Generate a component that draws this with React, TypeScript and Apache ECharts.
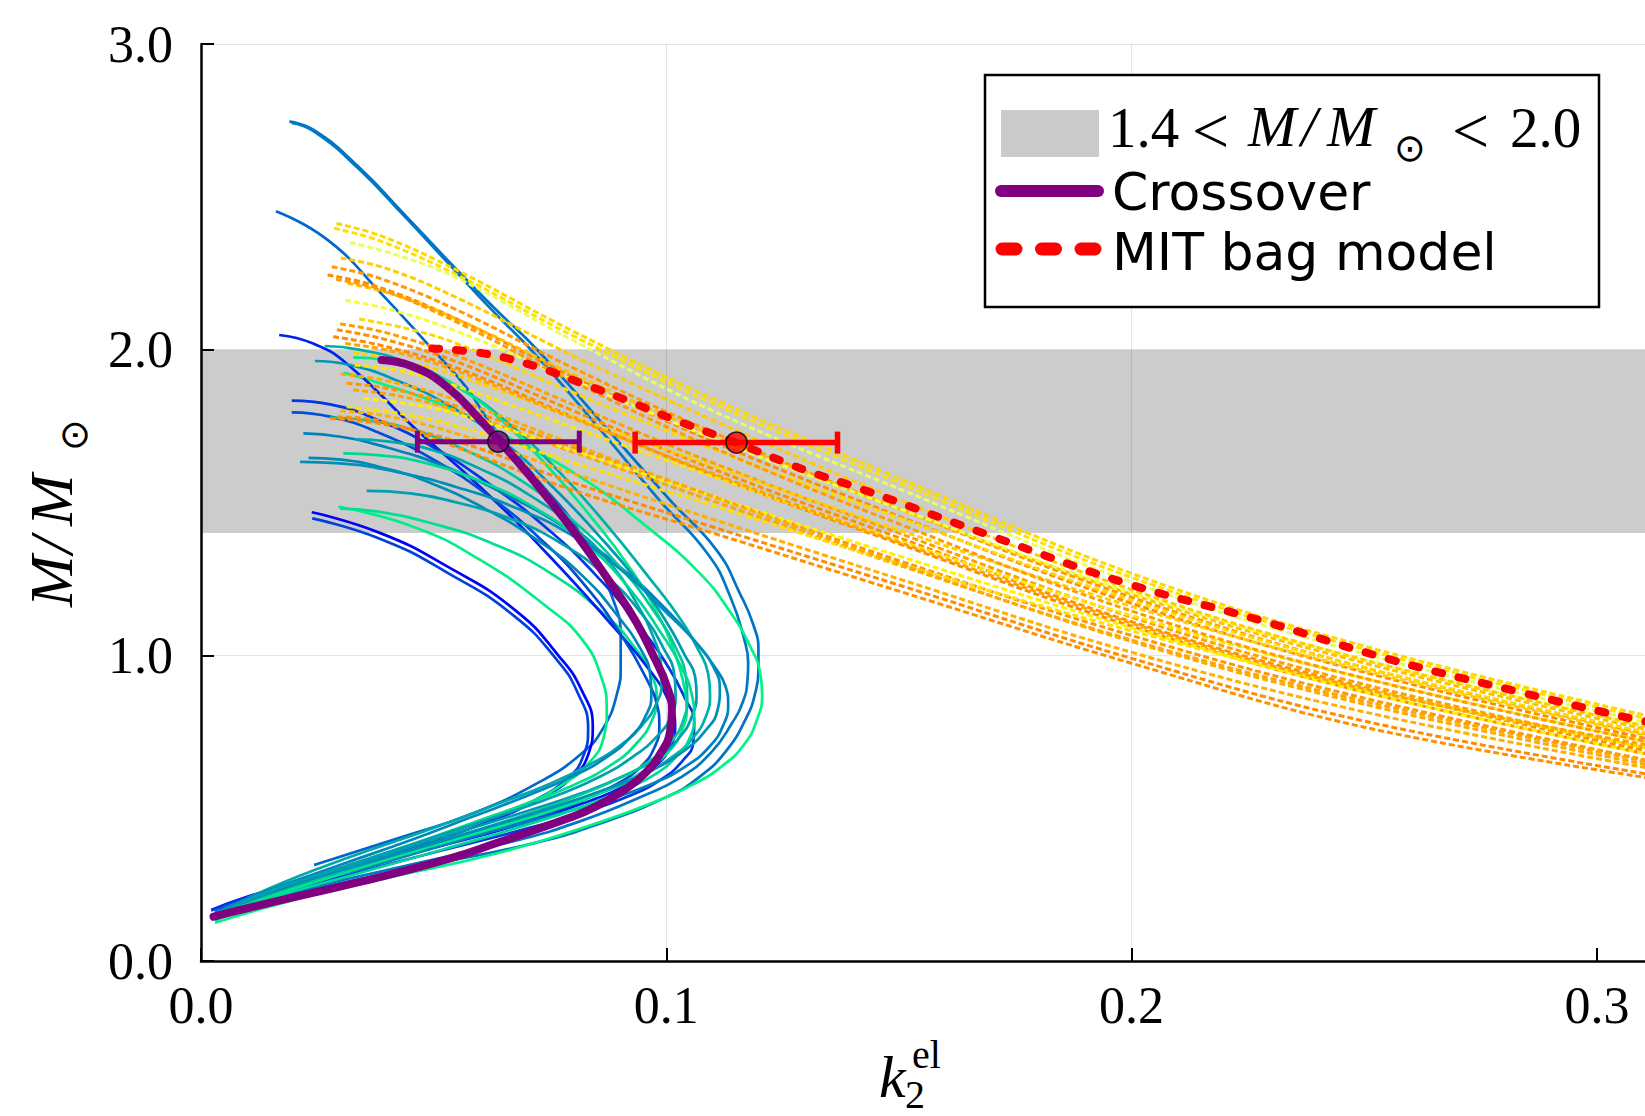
import React, { useEffect, useRef } from "react";
import * as echarts from "echarts";

// ---------- data ----------
const xTicks = [0, 0.1, 0.2, 0.3];
const yTicks = [0, 1, 2, 3];
const xMax = 0.31034;
const bandRange = [1.4, 2.0];

const crossoverCurve = [
  [0.0388, 1.966], [0.0456, 1.944], [0.0528, 1.879], [0.06, 1.77], [0.0671, 1.65],
  [0.0743, 1.519], [0.0815, 1.377], [0.0886, 1.224], [0.0935, 1.11], [0.0975, 0.99],
  [0.1001, 0.9], [0.1012, 0.82], [0.1008, 0.75], [0.0988, 0.68], [0.0955, 0.615],
  [0.091, 0.56], [0.0848, 0.505], [0.0786, 0.465], [0.0643, 0.39], [0.053, 0.333],
  [0.0339, 0.258], [0.0147, 0.19], [0.0027, 0.145],
];

const mitBagCurve = [
  [0.0497, 2.004], [0.0607, 1.988], [0.0722, 1.944], [0.0818, 1.89], [0.0914, 1.835],
  [0.101, 1.775], [0.1149, 1.696], [0.1298, 1.606], [0.1416, 1.546], [0.1703, 1.388],
  [0.199, 1.235], [0.2276, 1.115], [0.2559, 0.985], [0.2831, 0.881], [0.3089, 0.788],
  [0.3115, 0.782],
];

// [x, y, xLow, xHigh]
const crossoverPoint = [0.0639, 1.699, 0.0465, 0.0813];
const mitPoint = [0.1151, 1.696, 0.0933, 0.1368];

const solidColors = [
  "#0073c6", "#0078c3", "#0068cc", "#0000ff", "#0040df", "#00f087", "#00e08f",
  "#00f585", "#0020ef", "#0038e3", "#0050d7", "#0080bf", "#00b0a7", "#00e88b",
  "#0098b3", "#00c89b", "#00a8ab", "#00d897", "#0088bb", "#0090b7", "#00a0af",
];

const solidCurves = [
  [[0.019, 2.746], [0.0243, 2.718], [0.0339, 2.598], [0.0435, 2.446], [0.053, 2.293], [0.0627, 2.141], [0.0723, 1.999], [0.0847, 1.786], [0.1008, 1.508], [0.1108, 1.344], [0.1158, 1.203], [0.1187, 1.1], [0.1198, 1.017], [0.1198, 0.95], [0.119, 0.87], [0.1173, 0.799], [0.113, 0.69], [0.1072, 0.603], [0.1001, 0.537], [0.0858, 0.45], [0.0714, 0.385], [0.05, 0.318], [0.03, 0.255], [0.015, 0.205], [0.004, 0.158]],
  [[0.0195, 2.742], [0.0245, 2.712], [0.034, 2.59], [0.0435, 2.44], [0.053, 2.285], [0.0625, 2.13], [0.0715, 1.99], [0.0835, 1.78], [0.0985, 1.508], [0.109, 1.33], [0.1138, 1.19], [0.1168, 1.05], [0.1176, 0.974], [0.1174, 0.91], [0.1165, 0.85], [0.1142, 0.78], [0.1095, 0.68], [0.103, 0.6], [0.095, 0.54], [0.082, 0.46], [0.068, 0.395], [0.048, 0.325], [0.029, 0.26], [0.014, 0.208], [0.004, 0.162]],
  [[0.0161, 2.453], [0.0272, 2.359], [0.0387, 2.184], [0.0492, 2.01], [0.0569, 1.879], [0.0627, 1.748], [0.072, 1.58], [0.0815, 1.399], [0.0886, 1.181], [0.0902, 1.05], [0.0902, 0.963], [0.0895, 0.88], [0.0866, 0.766], [0.0818, 0.679], [0.0722, 0.581], [0.0579, 0.48], [0.0435, 0.407], [0.0243, 0.314]],
  [[0.0238, 1.468], [0.0387, 1.399], [0.053, 1.29], [0.0675, 1.148], [0.077, 0.996], [0.0818, 0.886], [0.0842, 0.767], [0.0833, 0.679], [0.0799, 0.603], [0.0722, 0.527], [0.0627, 0.461], [0.0482, 0.385], [0.029, 0.298], [0.0099, 0.21], [0.0022, 0.167]],
  [[0.0239, 1.448], [0.0387, 1.38], [0.053, 1.27], [0.0672, 1.13], [0.0765, 0.985], [0.081, 0.876], [0.0832, 0.76], [0.0822, 0.672], [0.0788, 0.598], [0.0712, 0.522], [0.062, 0.457], [0.0478, 0.382], [0.0288, 0.296], [0.0098, 0.208], [0.0022, 0.165]],
  [[0.0295, 1.486], [0.0456, 1.421], [0.06, 1.312], [0.0743, 1.159], [0.082, 1.05], [0.086, 0.93], [0.0872, 0.82], [0.0865, 0.73], [0.0835, 0.65], [0.078, 0.58], [0.07, 0.515], [0.058, 0.445], [0.043, 0.365], [0.027, 0.285], [0.012, 0.2], [0.003, 0.14]],
  [[0.0299, 1.48], [0.038, 1.47], [0.05, 1.43], [0.062, 1.37], [0.075, 1.27], [0.087, 1.13], [0.0935, 1.02], [0.097, 0.93], [0.0979, 0.86], [0.097, 0.79], [0.0935, 0.71], [0.088, 0.64], [0.08, 0.575], [0.07, 0.515], [0.058, 0.45], [0.045, 0.38], [0.027, 0.29], [0.012, 0.205], [0.003, 0.135]],
  [[0.0306, 1.925], [0.0385, 1.89], [0.0528, 1.813], [0.0671, 1.704], [0.0815, 1.584], [0.0958, 1.421], [0.1072, 1.268], [0.1138, 1.14], [0.118, 1.03], [0.1202, 0.94], [0.1206, 0.87], [0.1195, 0.79], [0.1168, 0.71], [0.1122, 0.64], [0.1058, 0.578], [0.0985, 0.527], [0.0858, 0.455], [0.0643, 0.355], [0.04, 0.272], [0.02, 0.2], [0.003, 0.125]],
  [[0.0168, 2.048], [0.0241, 2.02], [0.0313, 1.955], [0.0456, 1.748], [0.06, 1.551], [0.0743, 1.334], [0.0886, 1.094], [0.0965, 0.95], [0.1005, 0.85], [0.1019, 0.77], [0.1008, 0.7], [0.0975, 0.635], [0.092, 0.58], [0.082, 0.515], [0.067, 0.44], [0.05, 0.37], [0.03, 0.29], [0.013, 0.215], [0.003, 0.16]],
  [[0.0195, 1.833], [0.028, 1.82], [0.038, 1.77], [0.05, 1.68], [0.062, 1.56], [0.074, 1.42], [0.085, 1.26], [0.095, 1.08], [0.1005, 0.96], [0.104, 0.86], [0.106, 0.78], [0.1058, 0.715], [0.1035, 0.655], [0.099, 0.595], [0.092, 0.54], [0.082, 0.485], [0.068, 0.425], [0.05, 0.355], [0.03, 0.275], [0.013, 0.205], [0.004, 0.165]],
  [[0.0195, 1.795], [0.028, 1.78], [0.038, 1.73], [0.05, 1.64], [0.062, 1.52], [0.073, 1.38], [0.083, 1.22], [0.091, 1.05], [0.0955, 0.93], [0.098, 0.84], [0.0985, 0.77], [0.0975, 0.7], [0.0945, 0.635], [0.0895, 0.58], [0.082, 0.525], [0.072, 0.47], [0.055, 0.395], [0.036, 0.31], [0.017, 0.228], [0.004, 0.168]],
  [[0.022, 1.726], [0.03, 1.715], [0.04, 1.68], [0.052, 1.62], [0.065, 1.53], [0.078, 1.42], [0.09, 1.29], [0.1, 1.15], [0.1065, 1.04], [0.1105, 0.96], [0.1128, 0.895], [0.1133, 0.84], [0.1122, 0.77], [0.1095, 0.705], [0.1045, 0.64], [0.097, 0.58], [0.087, 0.525], [0.074, 0.47], [0.058, 0.405], [0.04, 0.325], [0.02, 0.24], [0.004, 0.163]],
  [[0.0266, 2.012], [0.034, 2.0], [0.044, 1.96], [0.055, 1.88], [0.066, 1.76], [0.077, 1.6], [0.087, 1.43], [0.096, 1.26], [0.1025, 1.13], [0.1068, 1.02], [0.109, 0.94], [0.1094, 0.87], [0.1085, 0.8], [0.106, 0.735], [0.1015, 0.67], [0.0945, 0.605], [0.085, 0.545], [0.073, 0.485], [0.058, 0.415], [0.04, 0.335], [0.021, 0.25], [0.004, 0.155]],
  [[0.0327, 1.975], [0.04, 1.965], [0.048, 1.93], [0.057, 1.86], [0.066, 1.75], [0.075, 1.61], [0.084, 1.45], [0.092, 1.29], [0.098, 1.14], [0.102, 1.0], [0.1038, 0.9], [0.1044, 0.83], [0.1035, 0.76], [0.1008, 0.69], [0.0955, 0.625], [0.088, 0.565], [0.077, 0.5], [0.062, 0.43], [0.045, 0.355], [0.028, 0.275], [0.013, 0.2], [0.003, 0.135]],
  [[0.0245, 1.963], [0.032, 1.95], [0.042, 1.9], [0.053, 1.82], [0.064, 1.71], [0.075, 1.56], [0.085, 1.4], [0.094, 1.24], [0.1, 1.11], [0.104, 1.0], [0.1062, 0.93], [0.1065, 0.87], [0.1055, 0.8], [0.103, 0.735], [0.0985, 0.67], [0.0915, 0.61], [0.082, 0.55], [0.07, 0.49], [0.055, 0.42], [0.038, 0.34], [0.02, 0.255], [0.004, 0.16]],
  [[0.0277, 1.778], [0.035, 1.77], [0.045, 1.74], [0.057, 1.67], [0.069, 1.57], [0.08, 1.44], [0.09, 1.29], [0.098, 1.13], [0.1022, 1.02], [0.1042, 0.93], [0.1045, 0.86], [0.1037, 0.79], [0.1012, 0.72], [0.0965, 0.655], [0.0895, 0.595], [0.08, 0.535], [0.068, 0.47], [0.052, 0.395], [0.033, 0.305], [0.015, 0.22], [0.003, 0.14]],
  [[0.0331, 1.707], [0.04, 1.7], [0.05, 1.67], [0.06, 1.61], [0.07, 1.53], [0.08, 1.42], [0.088, 1.3], [0.094, 1.16], [0.0972, 1.06], [0.0988, 0.98], [0.099, 0.91], [0.0978, 0.84], [0.095, 0.775], [0.0905, 0.71], [0.0838, 0.645], [0.075, 0.58], [0.064, 0.515], [0.05, 0.435], [0.032, 0.34], [0.015, 0.24], [0.003, 0.15]],
  [[0.0306, 1.661], [0.038, 1.655], [0.048, 1.63], [0.06, 1.57], [0.072, 1.48], [0.083, 1.36], [0.092, 1.22], [0.099, 1.07], [0.1033, 0.96], [0.1055, 0.87], [0.106, 0.8], [0.1052, 0.735], [0.1025, 0.675], [0.098, 0.615], [0.091, 0.56], [0.082, 0.505], [0.07, 0.445], [0.052, 0.365], [0.033, 0.283], [0.015, 0.205], [0.003, 0.132]],
  [[0.0231, 1.646], [0.03, 1.64], [0.04, 1.61], [0.05, 1.56], [0.061, 1.48], [0.072, 1.38], [0.082, 1.26], [0.09, 1.12], [0.0945, 1.02], [0.0965, 0.94], [0.0968, 0.87], [0.0955, 0.8], [0.0925, 0.735], [0.0875, 0.67], [0.08, 0.605], [0.07, 0.54], [0.058, 0.47], [0.045, 0.395], [0.03, 0.315], [0.014, 0.228], [0.003, 0.158]],
  [[0.0213, 1.633], [0.03, 1.628], [0.042, 1.6], [0.055, 1.55], [0.068, 1.48], [0.08, 1.39], [0.091, 1.27], [0.1, 1.14], [0.1065, 1.04], [0.1102, 0.96], [0.1115, 0.89], [0.111, 0.82], [0.1085, 0.755], [0.104, 0.69], [0.097, 0.625], [0.0875, 0.565], [0.076, 0.505], [0.06, 0.43], [0.04, 0.34], [0.019, 0.245], [0.004, 0.16]],
  [[0.0356, 1.538], [0.045, 1.53], [0.055, 1.5], [0.066, 1.45], [0.077, 1.37], [0.087, 1.26], [0.095, 1.13], [0.0995, 1.02], [0.1017, 0.94], [0.102, 0.87], [0.101, 0.8], [0.098, 0.735], [0.093, 0.67], [0.086, 0.605], [0.077, 0.545], [0.065, 0.48], [0.049, 0.4], [0.031, 0.31], [0.014, 0.225], [0.003, 0.15]],
];

const dashedColors = [
  "#ffd700", "#ffe000", "#e6ff5a", "#ff9a00", "#ff8c00", "#ffc000", "#f0ff40", "#ffa000",
  "#ff9000", "#ff8c00", "#ffd000", "#ff9800", "#ffa500", "#ffe000", "#ffb000", "#ff9000",
  "#ff8c00", "#ffe600", "#ffd800", "#ffcc00", "#fff000", "#ffaa00", "#ffa500", "#ff9c00",
];

const dashedCurves = [
  [[0.0291, 2.413], [0.0391, 2.37], [0.055, 2.26], [0.08, 2.06], [0.11, 1.84], [0.15, 1.58], [0.2, 1.268], [0.25, 1.03], [0.3115, 0.8]],
  [[0.0286, 2.397], [0.0386, 2.355], [0.055, 2.245], [0.08, 2.045], [0.11, 1.825], [0.15, 1.565], [0.2, 1.255], [0.25, 1.02], [0.3115, 0.79]],
  [[0.032, 2.351], [0.042, 2.31], [0.055, 2.235], [0.08, 2.03], [0.11, 1.8], [0.15, 1.545], [0.2, 1.24], [0.25, 1.005], [0.3115, 0.777]],
  [[0.0281, 2.271], [0.0381, 2.235], [0.055, 2.13], [0.08, 1.94], [0.11, 1.73], [0.15, 1.48], [0.2, 1.19], [0.25, 0.96], [0.3115, 0.74]],
  [[0.0272, 2.244], [0.0372, 2.21], [0.055, 2.1], [0.08, 1.91], [0.11, 1.7], [0.15, 1.455], [0.2, 1.17], [0.25, 0.945], [0.3115, 0.725]],
  [[0.0315, 2.217], [0.0415, 2.18], [0.055, 2.1], [0.08, 1.92], [0.11, 1.72], [0.15, 1.48], [0.2, 1.2], [0.25, 0.975], [0.3115, 0.755]],
  [[0.031, 2.162], [0.041, 2.13], [0.055, 2.06], [0.08, 1.9], [0.11, 1.71], [0.15, 1.48], [0.2, 1.205], [0.25, 0.985], [0.3115, 0.765]],
  [[0.0299, 2.084], [0.0399, 2.055], [0.055, 1.98], [0.08, 1.82], [0.11, 1.63], [0.15, 1.4], [0.2, 1.125], [0.25, 0.905], [0.3115, 0.695]],
  [[0.0292, 2.065], [0.0392, 2.035], [0.055, 1.96], [0.08, 1.8], [0.11, 1.61], [0.15, 1.385], [0.2, 1.11], [0.25, 0.895], [0.3115, 0.685]],
  [[0.0284, 2.042], [0.0384, 2.015], [0.055, 1.94], [0.08, 1.78], [0.11, 1.59], [0.15, 1.365], [0.2, 1.095], [0.25, 0.88], [0.3115, 0.675]],
  [[0.0327, 1.99], [0.0427, 1.965], [0.055, 1.915], [0.08, 1.78], [0.11, 1.62], [0.15, 1.41], [0.2, 1.16], [0.25, 0.95], [0.3115, 0.735]],
  [[0.0313, 1.89], [0.0413, 1.87], [0.055, 1.815], [0.08, 1.68], [0.11, 1.52], [0.15, 1.31], [0.2, 1.065], [0.25, 0.86], [0.3115, 0.655]],
  [[0.0327, 1.868], [0.0427, 1.848], [0.055, 1.8], [0.08, 1.665], [0.11, 1.505], [0.15, 1.295], [0.2, 1.05], [0.25, 0.85], [0.3115, 0.65]],
  [[0.0313, 1.813], [0.0413, 1.795], [0.055, 1.75], [0.08, 1.63], [0.11, 1.49], [0.15, 1.3], [0.2, 1.08], [0.25, 0.89], [0.3115, 0.695]],
  [[0.0299, 1.8], [0.0399, 1.783], [0.055, 1.725], [0.08, 1.595], [0.11, 1.445], [0.15, 1.25], [0.2, 1.01], [0.25, 0.815], [0.3115, 0.63]],
  [[0.0292, 1.78], [0.0392, 1.765], [0.055, 1.68], [0.08, 1.54], [0.11, 1.4], [0.15, 1.21], [0.2, 0.974], [0.25, 0.765], [0.3115, 0.598]],
  [[0.0277, 1.775], [0.0377, 1.76], [0.055, 1.7], [0.08, 1.565], [0.11, 1.42], [0.15, 1.23], [0.2, 0.99], [0.25, 0.785], [0.3115, 0.61]],
  [[0.033, 1.95], [0.043, 1.93], [0.055, 1.88], [0.08, 1.745], [0.11, 1.585], [0.15, 1.375], [0.2, 1.13], [0.25, 0.925], [0.3115, 0.715]],
  [[0.034, 2.1], [0.044, 2.07], [0.055, 2.02], [0.08, 1.86], [0.11, 1.675], [0.15, 1.45], [0.2, 1.18], [0.25, 0.96], [0.3115, 0.745]],
  [[0.03, 2.3], [0.04, 2.265], [0.055, 2.17], [0.08, 1.98], [0.11, 1.77], [0.15, 1.51], [0.2, 1.215], [0.25, 0.985], [0.3115, 0.765]],
  [[0.035, 1.84], [0.045, 1.822], [0.055, 1.79], [0.08, 1.67], [0.11, 1.52], [0.15, 1.325], [0.2, 1.09], [0.25, 0.88], [0.3115, 0.675]],
  [[0.03, 1.92], [0.04, 1.898], [0.055, 1.835], [0.08, 1.69], [0.11, 1.52], [0.15, 1.3], [0.2, 1.045], [0.25, 0.84], [0.3115, 0.64]],
  [[0.031, 2.02], [0.041, 1.995], [0.055, 1.93], [0.08, 1.775], [0.11, 1.595], [0.15, 1.37], [0.2, 1.105], [0.25, 0.89], [0.3115, 0.705]],
  [[0.029, 2.23], [0.039, 2.195], [0.055, 2.09], [0.08, 1.895], [0.11, 1.68], [0.15, 1.43], [0.2, 1.145], [0.25, 0.925], [0.3115, 0.715]],
];

// ---------- chart ----------
const SERIF = '"Liberation Serif", "DejaVu Serif", serif';
const SANS = '"DejaVu Sans", "Noto Sans", sans-serif';

function tickFmt(v: number) {
  const r = Math.round(v * 10);
  return Math.abs(v * 10 - r) < 1e-6 ? (r / 10).toFixed(1) : "";
}

function errorBarSeries(pt: number[], color: string, width: number) {
  return {
    type: "custom",
    z: 6,
    data: [pt],
    encode: { x: 0, y: 1 },
    renderItem: (params: any, api: any) => {
      const y = api.value(1);
      const lo = api.coord([api.value(2), y]);
      const hi = api.coord([api.value(3), y]);
      const h = 11;
      const st = { stroke: color, lineWidth: width };
      return {
        type: "group",
        children: [
          { type: "line", shape: { x1: lo[0], y1: lo[1], x2: hi[0], y2: hi[1] }, style: st },
          { type: "line", shape: { x1: lo[0], y1: lo[1] - h, x2: lo[0], y2: lo[1] + h }, style: st },
          { type: "line", shape: { x1: hi[0], y1: hi[1] - h, x2: hi[0], y2: hi[1] + h }, style: st },
        ],
      };
    },
  };
}

function buildOption() {
  const series: any[] = [];
  series.push({
    type: "custom",
    z: 1,
    silent: true,
    data: [[0, bandRange[0]]],
    encode: { x: 0, y: 1 },
    renderItem: (params: any, api: any) => {
      const p1 = api.coord([0, bandRange[1]]);
      const p2 = api.coord([xMax, bandRange[0]]);
      return {
        type: "rect",
        shape: { x: p1[0], y: p1[1], width: p2[0] - p1[0] + 4, height: p2[1] - p1[1] },
        style: { fill: "rgba(0,0,0,0.2)" },
      };
    },
  });
  solidCurves.forEach((c, i) => {
    series.push({
      type: "line",
      z: 2,
      data: c,
      smooth: 0.5,
      showSymbol: false,
      silent: true,
      lineStyle: { color: solidColors[i], width: 2.7 },
    });
  });
  dashedCurves.forEach((c, i) => {
    series.push({
      type: "line",
      z: 3,
      data: c,
      smooth: 0.4,
      showSymbol: false,
      silent: true,
      lineStyle: { color: dashedColors[i], width: 3, type: [6, 3] },
    });
  });
  series.push({
    type: "line",
    z: 4,
    data: mitBagCurve,
    smooth: 0.4,
    showSymbol: false,
    silent: true,
    lineStyle: { color: "#ff0000", width: 8, type: [7, 17], cap: "round" },
  });
  series.push({
    type: "line",
    z: 5,
    data: crossoverCurve,
    smooth: 0.5,
    showSymbol: false,
    silent: true,
    lineStyle: { color: "#800080", width: 8, cap: "round", join: "round" },
  });
  series.push(errorBarSeries(crossoverPoint, "#800080", 5));
  series.push(errorBarSeries(mitPoint, "#ff0000", 5.5));
  series.push({
    type: "scatter",
    z: 7,
    data: [[crossoverPoint[0], crossoverPoint[1]]],
    symbolSize: 21,
    itemStyle: { color: "#800080", borderColor: "#000", borderWidth: 1.5 },
  });
  series.push({
    type: "scatter",
    z: 7,
    data: [[mitPoint[0], mitPoint[1]]],
    symbolSize: 21,
    itemStyle: { color: "#ff0000", borderColor: "#000", borderWidth: 1.5 },
  });

  const legendText = (text: string, x: number, y: number, font: string, extra: any = {}) => ({
    type: "text",
    x,
    y,
    z: 101,
    style: { text, font, fill: "#000", align: "left", verticalAlign: "middle", ...extra },
  });

  const graphic: any[] = [
    // legend
    {
      type: "rect",
      z: 100,
      shape: { x: 985, y: 75, width: 614, height: 232 },
      style: { fill: "#fff", stroke: "#000", lineWidth: 2.5 },
    },
    {
      type: "rect",
      z: 101,
      shape: { x: 1001, y: 110, width: 98, height: 47 },
      style: { fill: "#cbcbcb" },
    },
    {
      type: "line",
      z: 101,
      shape: { x1: 1001, y1: 191, x2: 1098, y2: 191 },
      style: { stroke: "#800080", lineWidth: 12, lineCap: "round" },
    },
    {
      type: "line",
      z: 101,
      shape: { x1: 1002, y1: 249, x2: 1098, y2: 249 },
      style: { stroke: "#ff0000", lineWidth: 13, lineCap: "round", lineDash: [14, 25.5] },
    },
    legendText("1.4", 1108, 127, `57px ${SERIF}`),
    legendText("<", 1192, 130, `66px ${SERIF}`),
    legendText("M", 1248, 126, `italic 58px ${SERIF}`),
    legendText("/", 1301, 126, `italic 58px ${SERIF}`),
    legendText("M", 1327, 126, `italic 58px ${SERIF}`),
    legendText("\u2299", 1410, 148, `38px ${SANS}`, { align: "center" }),
    legendText("<", 1452, 130, `66px ${SERIF}`),
    legendText("2.0", 1510, 127, `57px ${SERIF}`),
    legendText("Crossover", 1112, 192, `52px ${SANS}`),
    legendText("MIT bag model", 1112, 252, `52px ${SANS}`),
    // x axis title
    { type: "text", x: 879, y: 1077, z: 50, style: { text: "k", font: `italic 60px ${SERIF}`, fill: "#000", align: "left", verticalAlign: "middle" } },
    { type: "text", x: 912, y: 1054, z: 50, style: { text: "el", font: `40px ${SERIF}`, fill: "#000", align: "left", verticalAlign: "middle" } },
    { type: "text", x: 905, y: 1094, z: 50, style: { text: "2", font: `40px ${SERIF}`, fill: "#000", align: "left", verticalAlign: "middle" } },
    // y axis title (rotated)
    {
      type: "group",
      x: 51,
      y: 607,
      rotation: Math.PI / 2,
      z: 50,
      children: [
        { type: "text", x: 0, y: 0, style: { text: "M", font: `italic 62px ${SERIF}`, fill: "#000", align: "left", verticalAlign: "middle" } },
        { type: "text", x: 53, y: 0, style: { text: "/", font: `italic 62px ${SERIF}`, fill: "#000", align: "left", verticalAlign: "middle" } },
        { type: "text", x: 81, y: 0, style: { text: "M", font: `italic 62px ${SERIF}`, fill: "#000", align: "left", verticalAlign: "middle" } },
        { type: "text", x: 172, y: 23, style: { text: "\u2299", font: `38px ${SANS}`, fill: "#000", align: "center", verticalAlign: "middle" } },
      ],
    },
  ];

  return {
    animation: false,
    backgroundColor: "#fff",
    grid: { left: 201, right: 0, top: 44, bottom: 155, containLabel: false },
    xAxis: {
      type: "value",
      min: xTicks[0],
      max: xMax,
      interval: xTicks[1] - xTicks[0],
      axisLine: { show: true, lineStyle: { color: "#000", width: 2.5 } },
      axisTick: { show: true, inside: true, length: 13, customValues: xTicks, lineStyle: { color: "#000", width: 2 } },
      axisLabel: { formatter: tickFmt, customValues: xTicks, margin: 18, fontSize: 52, fontFamily: SERIF, color: "#000" },
      splitLine: { show: true, showMaxLine: false, lineStyle: { color: "rgba(0,0,0,0.1)", width: 1 } },
    },
    yAxis: {
      type: "value",
      min: yTicks[0],
      max: yTicks[yTicks.length - 1],
      interval: yTicks[1] - yTicks[0],
      axisLine: { show: true, lineStyle: { color: "#000", width: 2.5 } },
      axisTick: { show: true, inside: true, length: 13, lineStyle: { color: "#000", width: 2 } },
      axisLabel: { formatter: (v: number) => v.toFixed(1), margin: 28, fontSize: 52, fontFamily: SERIF, color: "#000" },
      splitLine: { show: true, lineStyle: { color: "rgba(0,0,0,0.1)", width: 1 } },
    },
    series,
    graphic,
  };
}

export default function App() {
  const ref = useRef<HTMLDivElement>(null);
  useEffect(() => {
    document.body.style.margin = "0";
    if (!ref.current) return;
    const chart = echarts.init(ref.current, undefined, { renderer: "svg" });
    chart.setOption(buildOption() as any);
    return () => chart.dispose();
  }, []);
  return <div ref={ref} style={{ width: 1645, height: 1116, background: "#fff" }} />;
}
